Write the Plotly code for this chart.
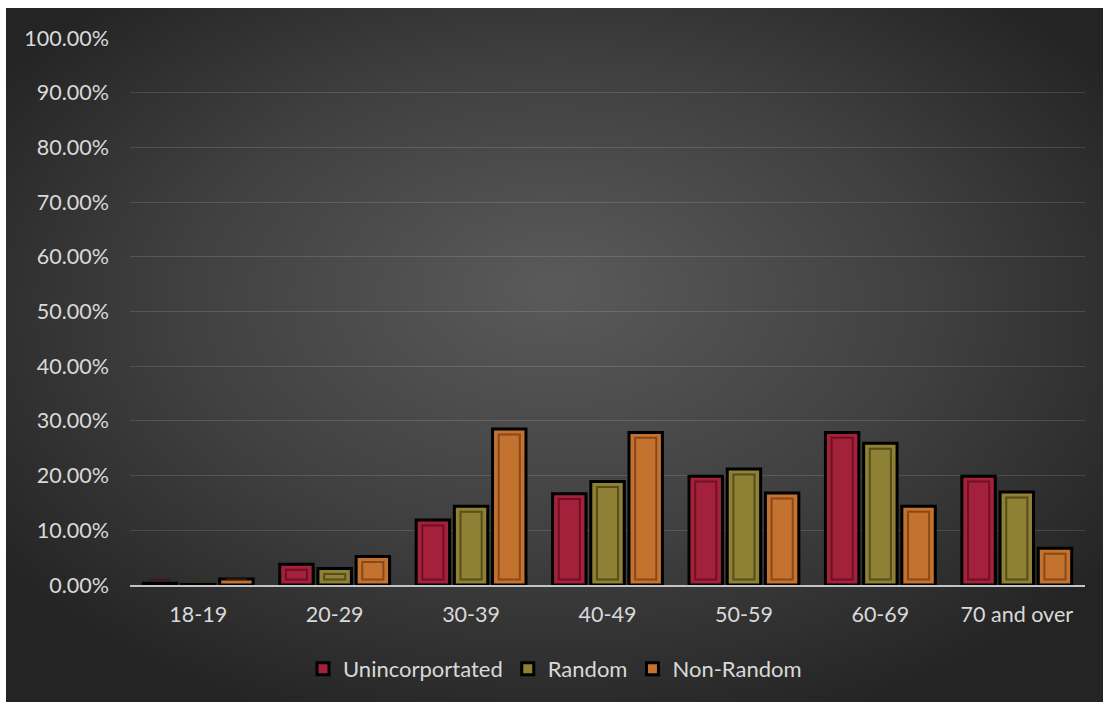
import base64
import plotly.graph_objects as go

categories = ["18-19", "20-29", "30-39", "40-49", "50-59", "60-69", "70 and over"]
unincorporated = [0.3, 3.8, 11.9, 16.7, 19.9, 27.9, 19.9]
random_vals = [0.1, 3.0, 14.4, 18.9, 21.2, 25.9, 17.0]
non_random = [1.1, 5.2, 28.5, 27.9, 16.8, 14.4, 6.7]
y_ticks = [0, 10, 20, 30, 40, 50, 60, 70, 80, 90, 100]
y_tick_labels = [f"{v:.2f}%" for v in y_ticks]

series = [
    ("Unincorportated", unincorporated, "#a3213a", "rgba(80,5,20,0.6)", -0.28),
    ("Random", random_vals, "#8e8034", "rgba(60,50,10,0.65)", 0.0),
    ("Non-Random", non_random, "#c3722f", "rgba(100,45,10,0.6)", 0.28),
]

W, H = 1103, 702
ML, MR, MT, MB = 130, 18, 38, 117
PW, PH = W - ML - MR, H - MT - MB
BG_LEFT, BG_TOP = 6, 8
bar_w = 0.245
inset_x = 0.045
inset_y = 1.0

fig = go.Figure()
for name, vals, col, inner, off in series:
    fig.add_trace(go.Bar(
        x=categories, y=vals, name=name,
        offset=off - bar_w / 2, width=bar_w,
        marker=dict(color=col, line=dict(color="#000000", width=3)),
        hoverinfo="x+y+name",
    ))
    ivals = [max(v - 2 * inset_y, 0) if v > 2.5 else 0 for v in vals]
    fig.add_trace(go.Bar(
        x=categories, y=ivals, base=[inset_y] * len(vals),
        offset=off - (bar_w - 2 * inset_x) / 2, width=bar_w - 2 * inset_x,
        marker=dict(color="rgba(0,0,0,0)", line=dict(color=inner, width=2)),
        showlegend=False, hoverinfo="skip",
    ))

BW, BH = W - BG_LEFT, H - BG_TOP
svg = f'''<svg xmlns="http://www.w3.org/2000/svg" width="{BW}" height="{BH}" viewBox="0 0 {BW} {BH}" preserveAspectRatio="none">
<defs><radialGradient id="g" cx="50%" cy="45%" r="62%" fx="50%" fy="40%">
<stop offset="0" stop-color="#5a5a5a"/><stop offset="0.55" stop-color="#404040"/><stop offset="1" stop-color="#242424"/>
</radialGradient></defs><rect width="{BW}" height="{BH}" fill="url(#g)"/></svg>'''
src = "data:image/svg+xml;base64," + base64.b64encode(svg.encode()).decode()

x0 = (BG_LEFT - ML) / PW
x1 = (W - ML) / PW
y_top = (H - MB - BG_TOP) / PH
y_bot = -MB / PH

fig.add_layout_image(dict(
    source=src, xref="paper", yref="paper", x=x0, y=y_top,
    sizex=x1 - x0, sizey=y_top - y_bot, xanchor="left", yanchor="top",
    sizing="stretch", layer="below",
))

font = "Lato, 'Open Sans', sans-serif"
fig.update_layout(
    width=W, height=H,
    margin=dict(l=ML, r=MR, t=MT, b=MB),
    paper_bgcolor="#ffffff", plot_bgcolor="rgba(0,0,0,0)",
    barmode="overlay",
    font=dict(family=font, size=21.5, color="#d9d9d9"),
    showlegend=True,
    legend=dict(orientation="h", x=(555 - ML) / PW, xanchor="center",
                y=(H - MB - 669) / PH, yanchor="middle",
                bgcolor="rgba(0,0,0,0)", font=dict(size=22, color="#d9d9d9"),
                itemclick=False, traceorder="normal"),
    xaxis=dict(range=[-0.5, 6.5], showgrid=False, showline=True,
               linecolor="#c4c4c4", linewidth=2, ticks="", ticklabelstandoff=9,
               tickfont=dict(size=21.5, color="#d9d9d9"), fixedrange=True),
    yaxis=dict(range=[0, 100], tickvals=y_ticks, ticktext=y_tick_labels,
               showgrid=True, gridcolor="rgba(255,255,255,0.13)", gridwidth=1,
               zeroline=False, showline=False, ticks="", ticklabelstandoff=20,
               tickfont=dict(size=21.5, color="#d9d9d9"), fixedrange=True),
)

fig.write_html("out.html", config={"displayModeBar": False},
               post_script="document.body.style.margin='0';document.body.style.overflow='hidden';")
